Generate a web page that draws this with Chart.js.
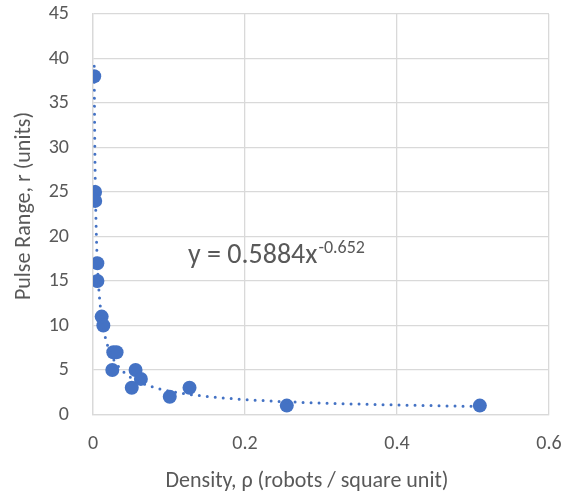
<!DOCTYPE html>
<html>
<head>
<meta charset="utf-8">
<script src="https://cdn.jsdelivr.net/npm/chart.js@4.4.1/dist/chart.umd.min.js"></script>
<style>
  html, body { margin: 0; padding: 0; background: #fff; }
  #grafico { display: block; }
</style>
</head>
<body>
<canvas id="grafico" width="575" height="499"></canvas>
<script>
// densidade (robos / unidade quadrada)
var densidades = [0.0016, 0.0027, 0.0029, 0.0057, 0.0058, 0.0114, 0.0136, 0.0267, 0.031, 0.0254, 0.056, 0.063, 0.051, 0.101, 0.127, 0.255, 0.509]
// alcance do pulso (unidades)
var alcances = [38, 25, 24, 17, 15, 11, 10, 7, 7, 5, 5, 4, 3, 2, 3, 1, 1]
var xTicks = [0, 0.2, 0.4, 0.6]
var yTicks = [0, 5, 10, 15, 20, 25, 30, 35, 40, 45]
// linha de tendencia (potencia) mostrada no grafico
var tendA = 0.5884
var tendB = -0.652

var fonte = "Carlito, Lato, 'Liberation Sans', sans-serif"
var cinza = "#595959"
var azul = "#4472C4"

var pontos = []
densidades.forEach(function(d, i){
  pontos.push({ x: d, y: alcances[i] })
})

//DESENHA A TENDENCIA, A EQUACAO E OS TITULOS DOS EIXOS
var extras = {
  id: "extras",
  afterDatasetsDraw: function(chart){
    var ctx = chart.ctx
    var sx = chart.scales.x
    var sy = chart.scales.y
    var area = chart.chartArea
    var xmin = Math.min.apply(null, densidades)
    var xmax = Math.max.apply(null, densidades)
    ctx.save()
    ctx.beginPath()
    ctx.rect(area.left, area.top, area.right - area.left, area.bottom - area.top)
    ctx.clip()
    ctx.beginPath()
    var n = 400
    for (var i = 0; i <= n; i++) {
      var x = xmin * Math.pow(xmax / xmin, i / n)
      var y = tendA * Math.pow(x, tendB)
      var px = sx.getPixelForValue(x)
      var py = sy.getPixelForValue(y)
      if (i == 0) ctx.moveTo(px, py)
      else ctx.lineTo(px, py)
    }
    ctx.strokeStyle = azul
    ctx.lineWidth = 3
    ctx.lineCap = "round"
    ctx.setLineDash([0, 8])
    ctx.stroke()
    ctx.restore()

    ctx.save()
    ctx.fillStyle = cinza
    ctx.textBaseline = "alphabetic"
    ctx.textAlign = "left"
    ctx.font = "28px " + fonte
    var eq = "y = " + tendA + "x"
    ctx.fillText(eq, 188, 263)
    var w = ctx.measureText(eq).width
    ctx.font = "18px " + fonte
    ctx.fillText(String(tendB), 188 + w + 1, 253)

    ctx.font = "22px " + fonte
    ctx.textAlign = "center"
    ctx.textBaseline = "middle"
    ctx.fillText("Density, \u03C1 (robots / square unit)", 307, 481)
    ctx.translate(24, 206)
    ctx.rotate(-Math.PI / 2)
    ctx.fillText("Pulse Range, r (units)", 0, 0)
    ctx.restore()
  }
}

new Chart(document.getElementById("grafico"), {
  type: "scatter",
  data: {
    datasets: [{
      data: pontos,
      backgroundColor: azul,
      borderColor: azul,
      borderWidth: 0,
      pointRadius: 7,
      pointHoverRadius: 7
    }]
  },
  options: {
    responsive: false,
    animation: false,
    devicePixelRatio: 1,
    layout: { padding: { top: 14, right: 26, left: 0, bottom: 0 } },
    plugins: {
      legend: { display: false },
      tooltip: { enabled: false }
    },
    scales: {
      x: {
        type: "linear",
        min: xTicks[0],
        max: xTicks[xTicks.length - 1],
        afterBuildTicks: function(s){ s.ticks = xTicks.map(function(v){ return { value: v } }) },
        afterFit: function(s){ s.height = 84.5; s.paddingLeft = 0; s.paddingRight = 0 },
        grid: { color: "#d9d9d9", lineWidth: 1.3, drawTicks: false },
        border: { color: "#d9d9d9", width: 1.3 },
        ticks: {
          color: cinza,
          font: { family: fonte, size: 20 },
          padding: 17,
          maxRotation: 0,
          callback: function(v){ return String(Math.round(v * 10) / 10) }
        }
      },
      y: {
        min: yTicks[0],
        max: yTicks[yTicks.length - 1],
        afterBuildTicks: function(s){ s.ticks = yTicks.map(function(v){ return { value: v } }) },
        afterFit: function(s){ s.width = 93; s.paddingTop = 0; s.paddingBottom = 0 },
        grid: { color: "#d9d9d9", lineWidth: 1.3, drawTicks: false },
        border: { color: "#d9d9d9", width: 1.3 },
        ticks: {
          color: cinza,
          font: { family: fonte, size: 20 },
          padding: 24
        }
      }
    }
  },
  plugins: [extras]
})
</script>
</body>
</html>
